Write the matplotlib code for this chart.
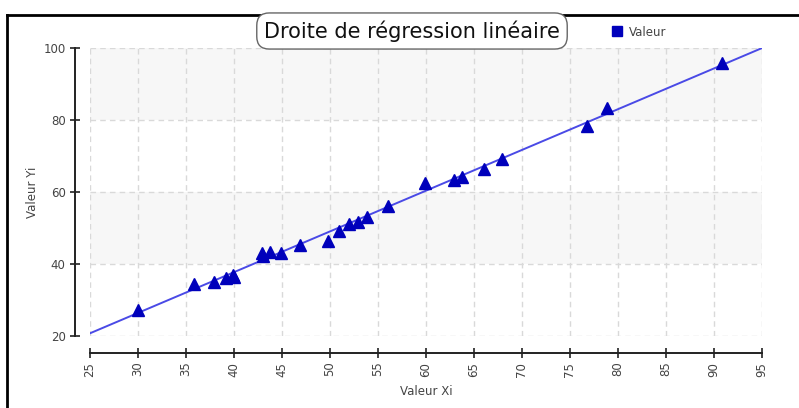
import matplotlib
matplotlib.use("Agg")
import matplotlib.pyplot as plt
import numpy as np
from matplotlib.lines import Line2D

# observations (Xi, Yi)
xi = [30, 35.8, 37.9, 39.2, 39.9, 40.0, 42.9, 43.0, 43.8, 44.9, 46.9, 49.8, 50.9,
      52.0, 52.9, 53.9, 56.0, 59.9, 62.9, 63.8, 66.0, 67.9, 76.8, 78.9, 90.8]
yi = [27.2, 34.4, 35.0, 36.1, 36.9, 36.4, 43.0, 42.2, 43.3, 43.0, 45.3, 46.5, 49.2,
      51.1, 51.7, 53.0, 56.1, 62.4, 63.2, 64.2, 66.4, 69.2, 78.3, 83.3, 95.8]

x_ticks = list(range(25, 96, 5))
y_ticks = [20, 40, 60, 80, 100]

TITLE = "Droite de régression linéaire"
SERIES = "Valeur"
XLABEL = "Valeur Xi"
YLABEL = "Valeur Yi"

plt.rcParams["font.family"] = "DejaVu Sans"

fig = plt.figure(figsize=(7.99, 4.08), dpi=100)
ax = fig.add_axes([90 / 799, 72 / 408, 672 / 799, 288 / 408])
ax.set_xlim(25, 95)
ax.set_ylim(20, 100)

# alternating background bands
for k, (lo, hi) in enumerate(zip(y_ticks[:-1], y_ticks[1:])):
    ax.axhspan(lo, hi, color="#f7f7f7" if k % 2 else "white", zorder=0, lw=0)

ax.grid(True, color="#d9d9d9", linestyle=(0, (4, 3)), linewidth=1)
ax.set_axisbelow(True)

# least squares line
slope, intercept = np.polyfit(xi, yi, 1)
xs = np.array([25, 95])
ax.plot(xs, slope * xs + intercept, color="#4a4ae6", lw=1.4, zorder=2)
ax.plot(xi, yi, "^", color="#0000bb", ms=8, zorder=3, clip_on=False)

for side in ("top", "right"):
    ax.spines[side].set_visible(False)
ax.spines["left"].set_position(("outward", 11))
ax.spines["bottom"].set_position(("outward", 12))
for side in ("left", "bottom"):
    ax.spines[side].set_color("#222222")
    ax.spines[side].set_linewidth(1.4)

ax.set_xticks(x_ticks)
ax.set_yticks(y_ticks)
ax.set_xticklabels([str(v) for v in x_ticks], rotation=90)
ax.tick_params(direction="inout", length=7, width=1.2, color="#222222",
               labelsize=8.5, labelcolor="#444444", pad=3)

ax.set_xlabel(XLABEL, fontsize=8.5, color="#444444", labelpad=6)
ax.set_ylabel(YLABEL, fontsize=8.5, color="#444444", labelpad=3)

# title box, its top edge sits under the frame line
fig.text(412 / 799, 1 - 31 / 408, TITLE, ha="center", va="center", fontsize=15,
         color="#111111",
         bbox=dict(boxstyle="round,pad=0.35,rounding_size=0.6", fc="white",
                   ec="#666666", lw=1))

handle = Line2D([], [], marker="s", color="#0000bb", linestyle="none", markersize=7)
fig.legend([handle], [SERIES], loc="center left", bbox_to_anchor=(602 / 799, 1 - 32 / 408),
           frameon=False, fontsize=8.5, handlelength=0.8, handletextpad=0.6,
           labelcolor="#444444")

# outer frame on top and left
fig.add_artist(Line2D([7 / 799, 7 / 799], [0, 1 - 15 / 408], color="black", lw=2,
                      transform=fig.transFigure))
fig.add_artist(Line2D([7 / 799, 1], [1 - 15 / 408, 1 - 15 / 408], color="black", lw=2,
                      transform=fig.transFigure))

fig.savefig("out.png", dpi=100, facecolor="white")
